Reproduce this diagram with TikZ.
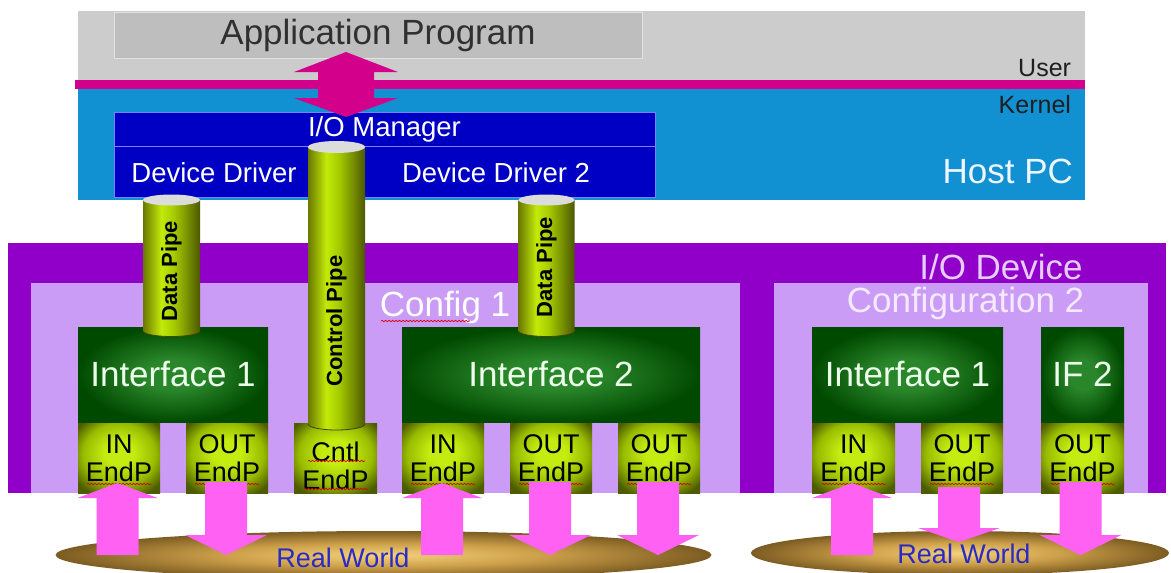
\documentclass[tikz,border=0pt]{standalone}
\usepackage{fontspec}
\setmainfont{Liberation Sans}
\usetikzlibrary{decorations.pathmorphing}
\definecolor{graybg}{HTML}{CCCCCC}
\definecolor{appgray}{HTML}{BEBEBE}
\definecolor{appedge}{HTML}{E2E2E2}
\definecolor{apptext}{HTML}{303030}
\definecolor{magline}{HTML}{D2008A}
\definecolor{cyanbg}{HTML}{1190D2}
\definecolor{dblue}{HTML}{0000C4}
\definecolor{dbedge}{HTML}{8080FF}
\definecolor{hosttxt}{HTML}{EEF6FF}
\definecolor{purp}{HTML}{9000C8}
\definecolor{lilac}{HTML}{CA9CF6}
\definecolor{iotxt}{HTML}{E6CCFF}
\definecolor{cfgtxt}{HTML}{F4EAFF}
\definecolor{pinkarr}{HTML}{FF62F2}
\definecolor{rwblue}{HTML}{2A2AC8}
\definecolor{pipeA}{HTML}{6A7800}
\definecolor{pipeB}{HTML}{C2EA08}
\definecolor{pipeC}{HTML}{A6CC00}
\definecolor{pipeD}{HTML}{4C5800}
\definecolor{pipetop}{HTML}{DCDCDC}
\definecolor{pipeedge}{HTML}{3E4800}
\definecolor{epA}{HTML}{C4EC10}
\definecolor{epB}{HTML}{98BC00}
\definecolor{epC}{HTML}{4E5C00}
\definecolor{ifA}{HTML}{2A862A}
\definecolor{ifC}{HTML}{004A00}
\definecolor{rwA}{HTML}{F4D27C}
\definecolor{rwB}{HTML}{CDA04A}
\definecolor{rwC}{HTML}{7C5C22}
\pgfdeclarehorizontalshading{pipeshade}{100bp}{color(0bp)=(pipeA); color(25bp)=(pipeA); color(41bp)=(pipeB); color(52bp)=(pipeC); color(75bp)=(pipeD); color(100bp)=(pipeD)}
\pgfdeclareradialshading{epshade}{\pgfpoint{0bp}{5bp}}{color(0bp)=(epA); color(9bp)=(epA); color(22bp)=(epB); color(32bp)=(epC); color(50bp)=(epC)}
\pgfdeclareradialshading{ifshade}{\pgfpoint{0bp}{0bp}}{color(0bp)=(ifA); color(8bp)=(ifA); color(25bp)=(ifC); color(50bp)=(ifC)}
\pgfdeclareradialshading{rwshade}{\pgfpoint{0bp}{0bp}}{color(0bp)=(rwA); color(12bp)=(rwB); color(25bp)=(rwC); color(50bp)=(rwC)}
\newcommand\DrawPipe[5]{%
  \shade[shading=pipeshade] ({#1-#2},#3) -- ({#1-#2},#4) arc[start angle=180, end angle=0, x radius=#2, y radius=#5] -- ({#1+#2},#3) -- cycle;
  \draw[pipeedge, line width=0.8pt] ({#1-#2},#4) arc[start angle=180, end angle=0, x radius=#2, y radius=#5];
  \fill[pipetop] (#1,#3) ellipse [x radius=#2, y radius=#5];
}
\newcommand\ArrUp[4]{\fill[pinkarr] ({#1-21},#4) -- ({#1-21},#3) -- ({#1-40},#3) -- (#1,#2) -- ({#1+40},#3) -- ({#1+21},#3) -- ({#1+21},#4) -- cycle;}
\newcommand\ArrDown[4]{\fill[pinkarr] ({#1-21},#2) -- ({#1-21},#3) -- ({#1-41},#3) -- (#1,#4) -- ({#1+41},#3) -- ({#1+21},#3) -- ({#1+21},#2) -- cycle;}
\begin{document}
\begin{tikzpicture}[x=1pt,y=-1pt,
  every node/.style={inner sep=0pt, outer sep=0pt},
  bigtxt/.style={font=\fontsize{35}{40}\selectfont},
  midtxt/.style={font=\fontsize{27.5}{30}\selectfont},
  smalltxt/.style={font=\fontsize{25}{28}\selectfont, text=black!88},
  ifbox/.style={shade, shading=ifshade, minimum height=95pt, bigtxt, text=white!92!green},
  epbox/.style={shade, shading=epshade, minimum width=82pt, minimum height=70pt},
  eptxt/.style={align=center, font=\fontsize{27}{28}\selectfont, text=black},
  pipetxt/.style={rotate=90, font=\bfseries\fontsize{22}{24}\selectfont, text=black},
  rwtxt/.style={font=\fontsize{27}{30}\selectfont, text=rwblue},
  squig/.style={draw=red!85!black, line width=0.7pt, decorate, decoration={snake, amplitude=0.7pt, segment length=3.5pt}}]
\useasboundingbox (0,0) rectangle (1171,573);
\fill[white] (0,0) rectangle (1171,573);
% ---- host PC
\node[fill=graybg, minimum width=1007pt, minimum height=69pt] (userband) at (581.5,45.5) {};
\node[fill=appgray, draw=appedge, line width=1pt, minimum width=528pt, minimum height=46pt, bigtxt, text=apptext] (app) at (378,35) {Application Program};
\node[fill=magline, minimum width=1010pt, minimum height=9pt] (kline) at (580,84.5) {};
\node[fill=cyanbg, minimum width=1007pt, minimum height=111pt] (kernelband) at (581.5,144.5) {};
\node[fill=dblue, draw=dbedge, line width=0.8pt, minimum width=541pt, minimum height=34pt, midtxt, text=white] (iomgr) at (384.5,129) {I/O Manager};
\node[fill=dblue, draw=dbedge, line width=0.8pt, minimum width=541pt, minimum height=51pt] (drivers) at (384.5,171.5) {};
\node[midtxt, text=white] (dd1) at (214,173) {Device Driver};
\node[midtxt, text=white] (dd2) at (496,173) {Device Driver 2};
\node[smalltxt, anchor=east] (user) at (1071,68) {User};
\node[smalltxt, anchor=east] (kernel) at (1071,105) {Kernel};
\node[bigtxt, text=hosttxt, anchor=east] (host) at (1073,171) {Host PC};
% ---- I/O device
\node[fill=purp, minimum width=1158pt, minimum height=250pt] (iodev) at (587,368) {};
\node[fill=lilac, minimum width=709pt, minimum height=210pt] (cfg1) at (385.5,388) {};
\node[fill=lilac, minimum width=374pt, minimum height=210pt] (cfg2) at (961,388) {};
\node[bigtxt, text=iotxt] (iodevtxt) at (1001,267) {I/O Device};
\node[bigtxt, text=cfgtxt] (cfg2txt) at (965.5,303) {Configuration 2};
\node[bigtxt, text=white] (cfg1txt) at (445,307) {Config 1};
% interfaces
\node[ifbox, minimum width=190pt] (if11) at (173,374.5) {Interface 1};
\node[ifbox, minimum width=298pt] (if12) at (551,374.5) {Interface 2};
\node[ifbox, minimum width=191pt] (if21) at (907.5,374.5) {Interface 1};
\node[ifbox, minimum width=83pt] (if22) at (1082.5,374.5) {IF 2};
% endpoints
\node[epbox] (ep1) at (119,458) {};
\node[epbox] (ep2) at (227,458) {};
\node[epbox, minimum width=83pt] (ep3) at (335.5,458) {};
\node[epbox] (ep4) at (443,458) {};
\node[epbox] (ep5) at (551,458) {};
\node[epbox] (ep6) at (659,458) {};
\node[epbox, minimum width=83pt] (ep7) at (853.5,458) {};
\node[epbox] (ep8) at (962,458) {};
\node[epbox, minimum width=83pt] (ep9) at (1082.5,458) {};
\node[eptxt] (ep1t) at (119,458) {IN\\EndP};
\node[eptxt] (ep2t) at (227,458) {OUT\\EndP};
\node[eptxt] (ep3t) at (335.5,466) {Cntl\\EndP};
\node[eptxt] (ep4t) at (443,458) {IN\\EndP};
\node[eptxt] (ep5t) at (551,458) {OUT\\EndP};
\node[eptxt] (ep6t) at (659,458) {OUT\\EndP};
\node[eptxt] (ep7t) at (853.5,458) {IN\\EndP};
\node[eptxt] (ep8t) at (962,458) {OUT\\EndP};
\node[eptxt] (ep9t) at (1082.5,458) {OUT\\EndP};
% pipes
\DrawPipe{171.5}{28.5}{200}{331}{5.5}
\DrawPipe{546.5}{28}{200}{331}{5.5}
\DrawPipe{336.5}{28.5}{147}{424}{6}
\node[pipetxt] (dp1) at (171.5,271) {Data Pipe};
\node[pipetxt] (dp2) at (546.5,267) {Data Pipe};
\node[pipetxt] (cp) at (336.5,321) {Control Pipe};
% user/kernel double arrow
\fill[magline] (346,52) -- (398,72) -- (374,72) -- (374,98) -- (398,98) -- (346,117) -- (294,98) -- (318,98) -- (318,72) -- (294,72) -- cycle;
% spell-check squiggles
\draw[squig] (381,321) -- (470,321);
\foreach \cx in {119,227,443,551,659,853.5,962,1082.5} {\draw[squig] ({\cx-32},484) -- ({\cx+32},484);}
\draw[squig] (308,461) -- (365,461);
\draw[squig] (304,489) -- (368,489);
% real world
\shade[shading=rwshade] (383.5,555) ellipse [x radius=328, y radius=24];
\shade[shading=rwshade] (960,553) ellipse [x radius=209, y radius=22];
\node[rwtxt] (rw1) at (343,558) {Real World};
\node[rwtxt] (rw2) at (964,554) {Real World};
% pink arrows
\ArrUp{117.5}{483}{498}{555}
\ArrDown{226}{482}{535}{555}
\ArrUp{442}{483}{498}{555}
\ArrDown{550}{482}{535}{555}
\ArrDown{658}{482}{535}{555}
\ArrUp{852}{483}{498}{555}
\ArrDown{959}{487}{528}{542}
\ArrDown{1080.5}{482}{535}{555}
\end{tikzpicture}
\end{document}
